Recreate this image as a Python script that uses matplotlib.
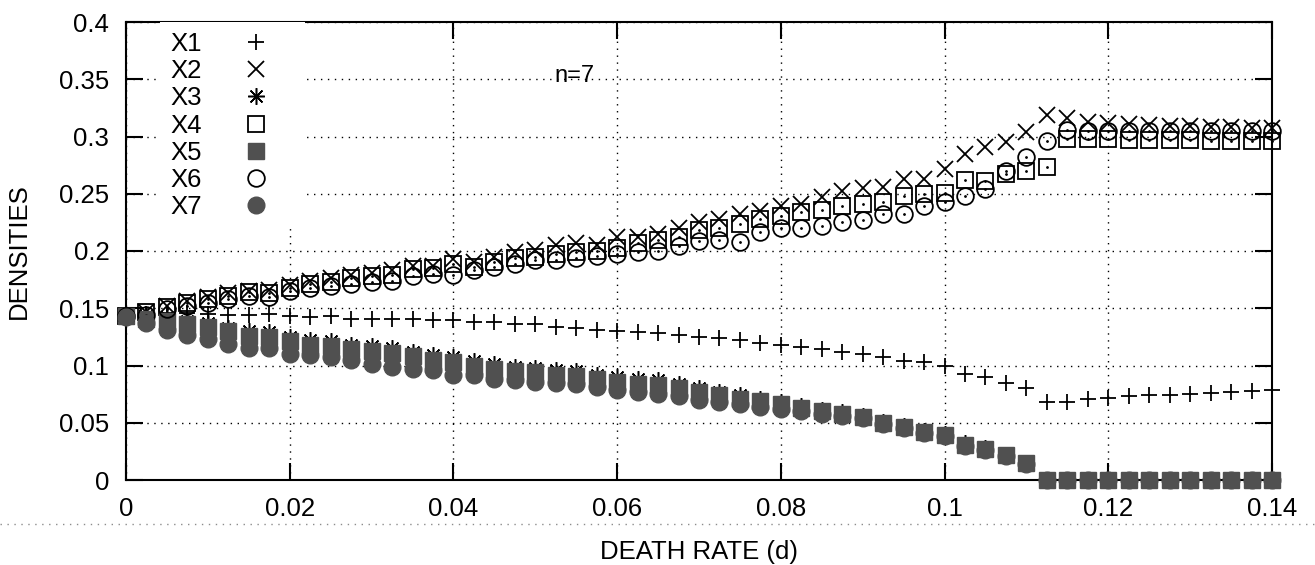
import numpy as np
import matplotlib
matplotlib.use("Agg")
import matplotlib.pyplot as plt
from matplotlib.lines import Line2D
from matplotlib.ticker import FormatStrFormatter

plt.rcParams['font.family'] = ['Liberation Sans', 'DejaVu Sans']

# death rate grid, step 0.0025 from 0 to 0.14
death_rate = np.round(np.arange(57) * 0.0025, 4)

x1 = [0.143, 0.145, 0.146, 0.146, 0.145, 0.144, 0.144, 0.145, 0.143, 0.142,
      0.143, 0.141, 0.141, 0.141, 0.141, 0.140, 0.140, 0.138, 0.138, 0.136,
      0.136, 0.134, 0.133, 0.131, 0.130, 0.129, 0.128, 0.127, 0.125, 0.124,
      0.122, 0.120, 0.118, 0.116, 0.114, 0.112, 0.110, 0.107, 0.104, 0.103,
      0.100, 0.093, 0.090, 0.085, 0.080, 0.068, 0.068, 0.071, 0.072, 0.073,
      0.074, 0.074, 0.075, 0.076, 0.077, 0.078, 0.079]
x2 = [0.143, 0.147, 0.152, 0.156, 0.160, 0.163, 0.165, 0.166, 0.170, 0.174,
      0.176, 0.179, 0.181, 0.183, 0.187, 0.187, 0.193, 0.190, 0.195, 0.199,
      0.201, 0.205, 0.207, 0.205, 0.212, 0.212, 0.215, 0.220, 0.225, 0.228,
      0.232, 0.235, 0.239, 0.241, 0.247, 0.252, 0.255, 0.256, 0.263, 0.263,
      0.272, 0.285, 0.291, 0.295, 0.304, 0.319, 0.316, 0.313, 0.312, 0.311,
      0.310, 0.309, 0.309, 0.308, 0.308, 0.307, 0.307]
x3 = [0.144, 0.143, 0.142, 0.139, 0.137, 0.133, 0.130, 0.129, 0.125, 0.122,
      0.121, 0.118, 0.117, 0.115, 0.112, 0.109, 0.107, 0.104, 0.101, 0.099,
      0.098, 0.096, 0.095, 0.092, 0.090, 0.088, 0.087, 0.084, 0.080, 0.077,
      0.074, 0.071, 0.068, 0.065, 0.061, 0.059, 0.056, 0.051, 0.047, 0.043,
      0.040, 0.032, 0.028, 0.022, 0.015, 0.0, 0.0, 0.0, 0.0, 0.0,
      0.0, 0.0, 0.0, 0.0, 0.0, 0.0, 0.0]
x4 = [0.143, 0.147, 0.151, 0.155, 0.158, 0.161, 0.164, 0.163, 0.168, 0.171,
      0.173, 0.176, 0.178, 0.179, 0.184, 0.185, 0.189, 0.186, 0.190, 0.194,
      0.195, 0.197, 0.199, 0.200, 0.203, 0.207, 0.210, 0.212, 0.218, 0.220,
      0.224, 0.228, 0.231, 0.234, 0.236, 0.239, 0.241, 0.243, 0.248, 0.250,
      0.251, 0.262, 0.261, 0.267, 0.270, 0.273, 0.298, 0.298, 0.298, 0.297,
      0.297, 0.297, 0.297, 0.296, 0.296, 0.296, 0.296]
x5 = [0.143, 0.141, 0.139, 0.136, 0.134, 0.130, 0.126, 0.125, 0.121, 0.118,
      0.117, 0.114, 0.113, 0.111, 0.108, 0.105, 0.103, 0.100, 0.097, 0.095,
      0.094, 0.092, 0.091, 0.088, 0.086, 0.084, 0.083, 0.080, 0.077, 0.074,
      0.071, 0.069, 0.066, 0.063, 0.060, 0.058, 0.055, 0.050, 0.046, 0.042,
      0.039, 0.031, 0.027, 0.022, 0.015, 0.0, 0.0, 0.0, 0.0, 0.0,
      0.0, 0.0, 0.0, 0.0, 0.0, 0.0, 0.0]
x6 = [0.143, 0.144, 0.149, 0.152, 0.155, 0.158, 0.161, 0.160, 0.165, 0.168,
      0.169, 0.171, 0.173, 0.174, 0.178, 0.180, 0.179, 0.183, 0.186, 0.189,
      0.192, 0.192, 0.194, 0.196, 0.197, 0.199, 0.200, 0.204, 0.209, 0.210,
      0.208, 0.217, 0.220, 0.220, 0.222, 0.225, 0.227, 0.232, 0.232, 0.239,
      0.243, 0.248, 0.254, 0.270, 0.282, 0.296, 0.306, 0.305, 0.305, 0.305,
      0.305, 0.305, 0.305, 0.305, 0.305, 0.305, 0.305]
x7 = [0.142, 0.137, 0.131, 0.127, 0.123, 0.119, 0.115, 0.115, 0.110, 0.109,
      0.107, 0.105, 0.101, 0.099, 0.097, 0.096, 0.092, 0.092, 0.088, 0.087,
      0.086, 0.085, 0.084, 0.081, 0.079, 0.077, 0.075, 0.073, 0.070, 0.068,
      0.066, 0.064, 0.062, 0.060, 0.058, 0.056, 0.054, 0.049, 0.045, 0.041,
      0.038, 0.030, 0.026, 0.021, 0.014, 0.0, 0.0, 0.0, 0.0, 0.0,
      0.0, 0.0, 0.0, 0.0, 0.0, 0.0, 0.0]

labels = ['X1', 'X2', 'X3', 'X4', 'X5', 'X6', 'X7']
x_ticks = [0, 0.02, 0.04, 0.06, 0.08, 0.1, 0.12, 0.14]
y_ticks = [0, 0.05, 0.1, 0.15, 0.2, 0.25, 0.3, 0.35, 0.4]

fill = '#505050'
ms = 12
styles = [
    dict(marker='+', color='black', mew=1.3),
    dict(marker='x', color='black', mew=1.3),
    dict(marker=(8, 2, 0), color='black', mew=1.1, markersize=12),
    dict(marker='s', color='black', mfc='none', mew=1.3, markersize=11),
    dict(marker='s', color=fill, mfc=fill, mec=fill, markersize=11),
    dict(marker='o', color='black', mfc='none', mew=1.3),
    dict(marker='o', color=fill, mfc=fill, mec=fill),
]

fig = plt.figure(figsize=(13.15, 5.65), dpi=100)
ax = fig.add_axes([126 / 1315, 1 - 480 / 565, (1272 - 126) / 1315, (480 - 22) / 565])

series = [x1, x2, x3, x4, x5, x6, x7]
handles = []
for vals, lab, st in zip(series, labels, styles):
    kw = dict(markersize=ms, linestyle='none')
    kw.update(st)
    h, = ax.plot(death_rate, vals, label=lab, clip_on=False, zorder=3, **kw)
    handles.append(h)
    if st['marker'] in ('s', 'o') and st.get('mfc') == 'none':
        ax.plot(death_rate, vals, linestyle='none', marker='.', markersize=2,
                color='black', clip_on=False, zorder=3)

ax.set_xlim(0, 0.14)
ax.set_ylim(0, 0.4)
ax.set_xticks(x_ticks)
ax.set_yticks(y_ticks)
ax.xaxis.set_major_formatter(FormatStrFormatter('%g'))
ax.yaxis.set_major_formatter(FormatStrFormatter('%g'))
ax.tick_params(direction='in', length=12, width=1.5, top=True, right=True,
               pad=12, labelsize=18.5)
for sp in ax.spines.values():
    sp.set_linewidth(1.5)
ax.set_axisbelow(True)
ax.grid(True, color='black', linestyle=(0, (1, 4)), linewidth=1.0)

ax.set_xlabel('DEATH RATE (d)', fontsize=18.5, labelpad=14)
ax.set_ylabel('DENSITIES', fontsize=18.5, labelpad=20)

ax.text(0.0524, 0.353, 'n=7', fontsize=17, va='center', ha='left')

leg = ax.legend(handles=handles, loc='upper left', bbox_to_anchor=(34 / 1146, 1.0),
                markerfirst=False, frameon=True, facecolor='white', edgecolor='none',
                framealpha=1, fancybox=False, fontsize=18.5, labelspacing=0.12,
                handlelength=3.0, handletextpad=0.6, borderpad=0.4,
                borderaxespad=0, numpoints=1)
leg.set_zorder(4)

# dotted page line from the scan
fig.add_artist(Line2D([0, 1], [1 - 524 / 565, 1 - 524 / 565], transform=fig.transFigure,
                      color='0.55', linestyle=(0, (1, 4)), linewidth=1))

fig.savefig('out.png', dpi=100, facecolor='w')
plt.close(fig)
